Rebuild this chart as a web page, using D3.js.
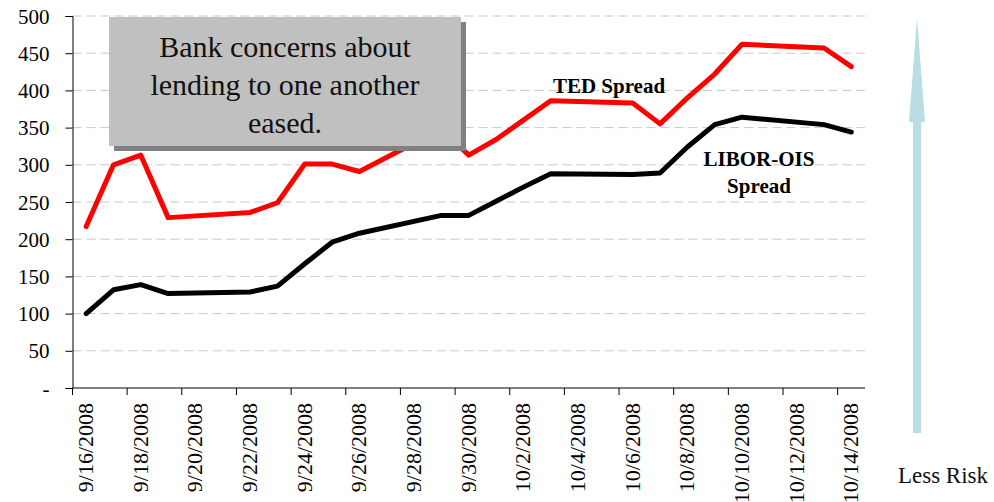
<!DOCTYPE html>
<html>
<head>
<meta charset="utf-8">
<script src="https://cdn.jsdelivr.net/npm/d3@7/dist/d3.min.js"></script>
<style>
  html, body { margin: 0; padding: 0; background: #fff; }
  svg { display: block; }
  svg text { font-family: "Liberation Serif", "Times New Roman", serif; }
</style>
</head>
<body>
<div id="chart"></div>
<script>
// Trading days in the series
const dates = ["9/16/2008", "9/17/2008", "9/18/2008", "9/19/2008", "9/22/2008", "9/23/2008",
    "9/24/2008", "9/25/2008", "9/26/2008", "9/29/2008", "9/30/2008", "10/1/2008", "10/2/2008",
    "10/3/2008", "10/6/2008", "10/7/2008", "10/8/2008", "10/9/2008", "10/10/2008",
    "10/13/2008", "10/14/2008"];

// Spreads in basis points
const tedSpread = [217, 300, 313, 229, 236, 249, 301, 301, 291, 348, 313, 334, 360, 386,
    383, 355, 390, 422, 462, 457, 432];
const liborOis = [100, 132, 139, 127, 129, 137, 167, 196, 208, 232, 232, 251, 270, 288,
    287, 289, 324, 354, 364, 354, 344];

// Axis labels (every second calendar day)
const tickLabels = ["9/16/2008", "9/18/2008", "9/20/2008", "9/22/2008", "9/24/2008",
    "9/26/2008", "9/28/2008", "9/30/2008", "10/2/2008", "10/4/2008", "10/6/2008",
    "10/8/2008", "10/10/2008", "10/12/2008", "10/14/2008"];
const yTicks = [0, 50, 100, 150, 200, 250, 300, 350, 400, 450, 500];

const noteLines = ["Bank concerns about", "lending to one another", "eased."];

const width = 994, height = 502;
const plotLeft = 72.5, plotRight = 865, plotTop = 16, plotBottom = 388;
const serif = '"Liberation Serif", "Times New Roman", serif';

const parse = d3.timeParse("%m/%d/%Y");
const dayStart = parse("9/16/2008");
const dayEnd = d3.timeDay.offset(parse("10/14/2008"), 1);

const svg = d3.select('#chart').append('svg')
    .attr('width', width)
    .attr('height', height);

const x = d3.scaleTime().domain([dayStart, dayEnd]).range([plotLeft, plotRight]);
const y = d3.scaleLinear().domain([0, 500]).range([plotBottom, plotTop]);

// centre of a calendar day
const xMid = s => x(d3.timeHour.offset(parse(s), 12));

// Gridlines
svg.append('g')
    .selectAll('line')
    .data(yTicks.filter(v => v > 0))
    .enter()
    .append('line')
    .attr('x1', plotLeft)
    .attr('x2', plotRight)
    .attr('y1', d => y(d))
    .attr('y2', d => y(d))
    .attr('stroke', '#c8c8c8')
    .attr('stroke-width', 1)
    .attr('stroke-dasharray', '9,5');

// Y axis
const yAxis = d3.axisLeft(y)
    .tickValues(yTicks)
    .tickSize(7)
    .tickPadding(16)
    .tickFormat(d => d === 0 ? '-' : d);

svg.append('g')
    .attr('transform', `translate(${plotLeft},0)`)
    .call(yAxis)
    .attr('font-family', serif)
    .call(g => g.select('.domain').attr('stroke', '#000'))
    .call(g => g.selectAll('.tick line').attr('stroke', '#000'))
    .call(g => g.selectAll('.tick text')
        .attr('fill', '#000')
        .style('font-size', '21px')
        .style('font-family', serif)
        .attr('dy', '0.34em')
        .attr('x', -23));

// X axis: ticks at start of every second day, labels at the middle of the day
const xg = svg.append('g');
xg.append('line')
    .attr('x1', plotLeft).attr('x2', plotRight)
    .attr('y1', plotBottom).attr('y2', plotBottom)
    .attr('stroke', '#000');

xg.selectAll('.xtick')
    .data(tickLabels)
    .enter()
    .append('line')
    .attr('class', 'xtick')
    .attr('x1', d => x(parse(d)))
    .attr('x2', d => x(parse(d)))
    .attr('y1', plotBottom)
    .attr('y2', plotBottom + 7)
    .attr('stroke', '#000');

xg.selectAll('.xlabel')
    .data(tickLabels)
    .enter()
    .append('text')
    .attr('class', 'xlabel')
    .attr('transform', d => `translate(${xMid(d) + 7},${plotBottom + 15}) rotate(-90)`)
    .attr('text-anchor', 'end')
    .style('font-size', '22px')
    .style('font-family', serif)
    .attr('fill', '#000')
    .text(d => d);

// Series lines
const series = [
    { name: 'TED', values: tedSpread, color: '#ff0000' },
    { name: 'LIBOR-OIS', values: liborOis, color: '#000000' }
];

const line = d3.line()
    .x((d, i) => xMid(dates[i]))
    .y(d => y(d));

svg.selectAll('.series')
    .data(series)
    .enter()
    .append('path')
    .attr('class', 'series')
    .attr('d', d => line(d.values))
    .attr('fill', 'none')
    .attr('stroke', d => d.color)
    .attr('stroke-width', 5)
    .attr('stroke-linejoin', 'round')
    .attr('stroke-linecap', 'round');

// Series labels
const labels = [
    { text: 'TED Spread', x: 609, y: 93 },
    { text: 'LIBOR-OIS', x: 759, y: 166 },
    { text: 'Spread', x: 759, y: 193 }
];
svg.selectAll('.slabel')
    .data(labels)
    .enter()
    .append('text')
    .attr('class', 'slabel')
    .attr('x', d => d.x)
    .attr('y', d => d.y)
    .attr('text-anchor', 'middle')
    .style('font-size', '21px')
    .style('font-weight', 'bold')
    .style('font-family', serif)
    .text(d => d.text);

// Annotation box with shadow
const box = { x: 109, y: 17, w: 352, h: 129 };
svg.append('rect')
    .attr('x', box.x + 5).attr('y', box.y + 5)
    .attr('width', box.w).attr('height', box.h)
    .attr('fill', '#808080');
svg.append('rect')
    .attr('x', box.x).attr('y', box.y)
    .attr('width', box.w).attr('height', box.h)
    .attr('fill', '#c0c0c0');

svg.append('g')
    .selectAll('text')
    .data(noteLines)
    .enter()
    .append('text')
    .attr('x', box.x + box.w / 2)
    .attr('y', (d, i) => 57 + i * 38)
    .attr('text-anchor', 'middle')
    .style('font-size', '30px')
    .style('font-family', serif)
    .attr('fill', '#111')
    .text(d => d);

// "Less Risk" arrow
const ax = 917;
svg.append('rect')
    .attr('x', ax - 4).attr('y', 120)
    .attr('width', 8).attr('height', 313)
    .attr('fill', '#b8dee2');
svg.append('path')
    .attr('d', `M${ax - 8},122 L${ax},18 L${ax + 8},122 Z`)
    .attr('fill', '#b8dee2');

svg.append('text')
    .attr('x', 943).attr('y', 483)
    .attr('text-anchor', 'middle')
    .style('font-size', '23px')
    .style('font-family', serif)
    .attr('fill', '#111')
    .text('Less Risk');
</script>
</body>
</html>
